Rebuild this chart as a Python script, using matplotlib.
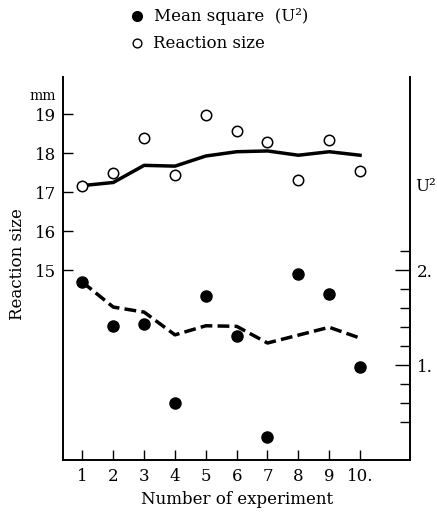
import matplotlib
matplotlib.use("Agg")
import matplotlib.pyplot as plt
from matplotlib.lines import Line2D
from matplotlib.ticker import FixedLocator, FixedFormatter, NullFormatter

# ---- data ----
experiments = [1, 2, 3, 4, 5, 6, 7, 8, 9, 10]
reaction_size = [17.17, 17.49, 18.38, 17.43, 18.99, 18.58, 18.29, 17.32, 18.34, 17.54]
reaction_trend = [17.17, 17.25, 17.69, 17.67, 17.93, 18.04, 18.06, 17.95, 18.04, 17.95]
mean_square = [1.876, 1.41, 1.437, 0.598, 1.73, 1.307, 0.244, 1.966, 1.753, 0.984]
mean_square_trend = [1.876, 1.613, 1.56, 1.32, 1.416, 1.41, 1.234, 1.317, 1.40, 1.286]

left_ticks = [15, 16, 17, 18, 19]
left_tick_labels = ["15", "16", "17", "18", "19"]
right_major = [1, 2]
right_major_labels = ["1.", "2."]
right_minor = [0.4, 0.6, 0.8, 1.2, 1.4, 1.6, 1.8, 2.2]
x_tick_labels = ["1", "2", "3", "4", "5", "6", "7", "8", "9", "10."]

plt.rcParams['font.family'] = ['DejaVu Serif']

W, H = 437, 513
fig = plt.figure(figsize=(W / 100, H / 100), dpi=100)
ax = fig.add_axes([63 / W, 53 / H, 347 / W, 383 / H])
ax2 = ax.twinx()

ax.set_xlim(0.37, 11.62)
ax.set_ylim(10.12, 19.96)
ax2.set_ylim(0, 4.04)

# lines and markers
ax.plot(experiments, reaction_trend, color='black', lw=2.5, solid_joinstyle='round', zorder=2)
ax.plot(experiments, reaction_size, linestyle='none', marker='o', ms=7.5,
        mfc='white', mec='black', mew=1.1, zorder=3)
ax2.plot(experiments, mean_square_trend, color='black', lw=2.5, dashes=(3.4, 1.5), zorder=2)
ax2.plot(experiments, mean_square, linestyle='none', marker='o', ms=8,
         mfc='black', mec='black', zorder=3)

# spines
for s in ['top', 'right']:
    ax.spines[s].set_visible(False)
for s in ['top', 'left', 'bottom']:
    ax2.spines[s].set_visible(False)
ax.spines['left'].set_linewidth(1.4)
ax.spines['bottom'].set_linewidth(1.4)
ax2.spines['right'].set_linewidth(1.4)

# ticks
ax.xaxis.set_major_locator(FixedLocator(experiments))
ax.xaxis.set_major_formatter(FixedFormatter(x_tick_labels))
ax.yaxis.set_major_locator(FixedLocator(left_ticks))
ax.yaxis.set_major_formatter(FixedFormatter(left_tick_labels))
ax.tick_params(axis='both', direction='in', length=7, width=1.0, labelsize=12, pad=5)
ax.tick_params(axis='x', pad=6)

ax2.yaxis.set_major_locator(FixedLocator(right_major))
ax2.yaxis.set_major_formatter(FixedFormatter(right_major_labels))
ax2.yaxis.set_minor_locator(FixedLocator(right_minor))
ax2.yaxis.set_minor_formatter(NullFormatter())
ax2.tick_params(axis='y', which='major', direction='in', length=11, width=1.0,
                labelsize=12, pad=5)
ax2.tick_params(axis='y', which='minor', direction='in', length=7, width=1.0)

# labels
ax.set_xlabel("Number of experiment", fontsize=12)
ax.xaxis.set_label_coords(0.501, -0.081)
ax.set_ylabel("Reaction size", fontsize=12)
ax.yaxis.set_label_coords(-0.107, 0.512)

fig.text(43 / W, 1 - 96 / H, "mm", ha='center', va='center', fontsize=10)
fig.text(415 / W, 1 - 187 / H, "U²", ha='left', va='center', fontsize=12)

# legend (manual)
fig.add_artist(Line2D([136.7 / W], [1 - 15.7 / H], marker='o', ms=7.0,
                      mfc='black', mec='black', linestyle='none', transform=fig.transFigure))
fig.add_artist(Line2D([136.7 / W], [1 - 43.3 / H], marker='o', ms=6.3,
                      mfc='white', mec='black', mew=1.0, linestyle='none',
                      transform=fig.transFigure))
fig.text(154 / W, 1 - 20.7 / H, "Mean square  (U²)", ha='left', va='baseline', fontsize=12)
fig.text(153 / W, 1 - 48 / H, "Reaction size", ha='left', va='baseline', fontsize=12)

fig.savefig("out.png", dpi=100)
